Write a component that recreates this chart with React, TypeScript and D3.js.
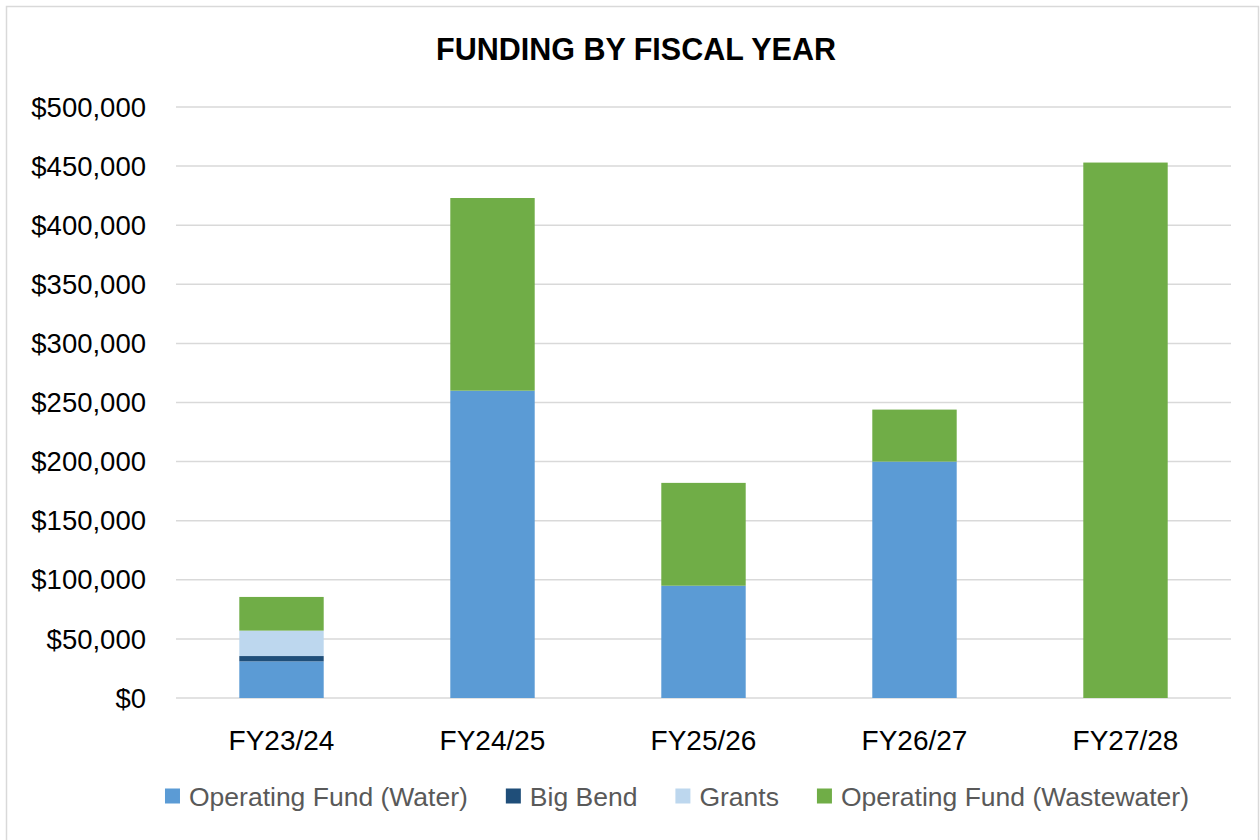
import React, { useEffect, useRef } from "react";
import * as d3 from "d3";

const categories = ["FY23/24", "FY24/25", "FY25/26", "FY26/27", "FY27/28"];
const seriesNames = ["Operating Fund (Water)", "Big Bend", "Grants", "Operating Fund (Wastewater)"];
const waterValues = [31000, 260000, 95000, 200000, 0];
const bigBendValues = [4500, 0, 0, 0, 0];
const grantsValues = [21500, 0, 0, 0, 0];
const wastewaterValues = [28500, 163000, 87000, 44000, 453000];
const yTicks = [0, 50000, 100000, 150000, 200000, 250000, 300000, 350000, 400000, 450000, 500000];
const colors = ["#5B9BD5", "#1F4E79", "#BDD7EE", "#70AD47"];
const title = "FUNDING BY FISCAL YEAR";

const W = 1260;
const H = 840;
const FONT = "'Liberation Sans', Arial, sans-serif";

export default function App() {
  const ref = useRef<SVGSVGElement>(null);

  useEffect(() => {
    const svg = d3.select(ref.current);
    svg.selectAll("*").remove();

    const left = 176, right = 1231, top = 107, bottom = 698;

    svg.append("rect").attr("x", 0).attr("y", 0).attr("width", W).attr("height", H).attr("fill", "#fff");
    svg.append("rect").attr("x", 6.5).attr("y", 6.5).attr("width", 1252).attr("height", 850)
      .attr("fill", "none").attr("stroke", "#d9d9d9").attr("stroke-width", 1.5);

    const x = d3.scaleBand<string>().domain(categories).range([left, right]).paddingInner(0.6).paddingOuter(0.3);
    const y = d3.scaleLinear().domain([0, 500000]).range([bottom, top]);

    // gridlines
    svg.append("g").selectAll("line").data(yTicks).join("line")
      .attr("x1", left).attr("x2", right)
      .attr("y1", (d) => y(d)).attr("y2", (d) => y(d))
      .attr("stroke", "#d9d9d9").attr("stroke-width", 1.5);

    // y labels
    const fmt = d3.format(",");
    svg.append("g").selectAll("text").data(yTicks).join("text")
      .attr("x", 146).attr("y", (d) => y(d)).attr("dy", "0.35em")
      .attr("text-anchor", "end").attr("font-family", FONT).attr("font-size", 27.5).attr("fill", "#000")
      .text((d) => "$" + fmt(d));

    // stacked data
    const rows = categories.map((c, i) => ({
      cat: c,
      s0: waterValues[i],
      s1: bigBendValues[i],
      s2: grantsValues[i],
      s3: wastewaterValues[i],
    }));
    const stack = d3.stack<any>().keys(["s0", "s1", "s2", "s3"]);
    const layers = stack(rows);

    svg.append("g").selectAll("g").data(layers).join("g")
      .attr("fill", (_d, i) => colors[i])
      .selectAll("rect").data((d) => d.filter((p) => p[1] - p[0] > 0)).join("rect")
      .attr("x", (d: any) => x(d.data.cat)!)
      .attr("width", x.bandwidth())
      .attr("y", (d: any) => y(d[1]))
      .attr("height", (d: any) => y(d[0]) - y(d[1]));

    // x labels
    svg.append("g").selectAll("text").data(categories).join("text")
      .attr("x", (d) => x(d)! + x.bandwidth() / 2).attr("y", 750)
      .attr("text-anchor", "middle").attr("font-family", FONT).attr("font-size", 28).attr("fill", "#000")
      .text((d) => d);

    // title
    svg.append("text").attr("x", 636).attr("y", 60).attr("text-anchor", "middle")
      .attr("font-family", FONT).attr("font-weight", "bold").attr("font-size", 30.5).attr("fill", "#000")
      .text(title);

    // legend
    const lg = svg.append("g");
    const sq = 15, gapSq = 9, gapItem = 38;
    let cx = 0;
    seriesNames.forEach((name, i) => {
      const g = lg.append("g");
      g.append("rect").attr("x", 0).attr("y", -sq / 2 - 1).attr("width", sq).attr("height", sq).attr("fill", colors[i]);
      const t = g.append("text").attr("x", sq + gapSq).attr("y", 0).attr("dy", "0.35em")
        .attr("font-family", FONT).attr("font-size", 26.5).attr("fill", "#595959").text(name);
      const tw = (t.node() as SVGTextElement).getComputedTextLength();
      g.attr("transform", `translate(${cx},0)`);
      cx += sq + gapSq + tw + gapItem;
    });
    const total = cx - gapItem;
    lg.attr("transform", `translate(${(164 + 1190) / 2 - total / 2},797)`);
  }, []);

  return (
    <svg ref={ref} width={W} height={H} style={{ position: "absolute", left: 0, top: 0, display: "block" }} />
  );
}
